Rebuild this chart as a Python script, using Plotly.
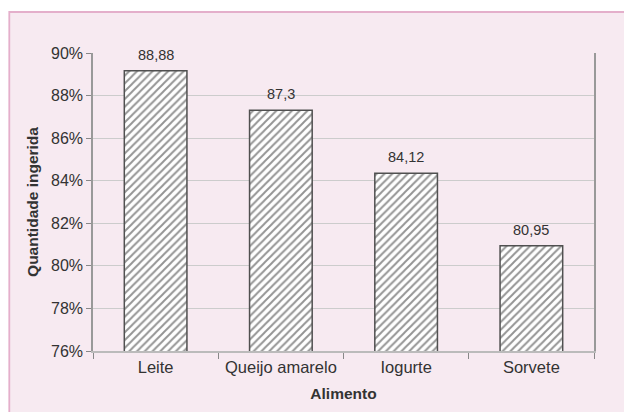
import plotly.graph_objects as go

categories = ["Leite", "Queijo amarelo", "Iogurte", "Sorvete"]
bar_values = [89.17, 87.31, 84.35, 80.95]
label_texts = ["88,88", "87,3", "84,12", "80,95"]
y_ticks = [76, 78, 80, 82, 84, 86, 88, 90]
y_tick_text = [f"{v}%" for v in y_ticks]

W, H = 624, 412
L, R, T, B = 93, 30, 53, 61
pw, ph = W - L - R, H - T - B

def px_x(px):
    return (px - L) / pw

def px_y(py):
    return (H - B - py) / ph

PINK = "#F7EAF1"
TEXT = "#333333"
FONT = "Liberation Sans, Arial, sans-serif"

fig = go.Figure()
fig.add_trace(go.Bar(
    x=categories,
    y=bar_values,
    base=0,
    width=0.5,
    marker=dict(
        color="white",
        line=dict(color="#505050", width=1.5),
        pattern=dict(shape="/", fgcolor="#2a2a2a", bgcolor="white", size=5.5, solidity=0.35),
    ),
    hoverinfo="skip",
))

for c, v, t in zip(categories, bar_values, label_texts):
    fig.add_annotation(x=c, y=v, text=t, showarrow=False, yanchor="bottom", yshift=6,
                       font=dict(family=FONT, size=14.5, color=TEXT))

fig.add_shape(type="rect", xref="paper", yref="paper",
              x0=px_x(9.3), x1=px_x(W + 20), y0=px_y(H + 20), y1=px_y(12),
              fillcolor=PINK, line=dict(color="#E4AFCB", width=1.8), layer="below")

fig.update_layout(
    width=W, height=H,
    margin=dict(l=L, r=R, t=T, b=B),
    paper_bgcolor="white",
    plot_bgcolor="rgba(0,0,0,0)",
    showlegend=False,
    bargap=0.5,
    font=dict(family=FONT, color=TEXT),
    xaxis=dict(
        title=dict(text="<b>Alimento</b>", font=dict(size=15.5, color=TEXT), standoff=14),
        tickfont=dict(size=16.5, color=TEXT),
        showline=True, linecolor="#BBBBBB", linewidth=1.5,
        ticks="outside", tickson="boundaries", ticklen=6, tickcolor="#888888", tickwidth=1,
        showgrid=False,
    ),
    yaxis=dict(
        title=dict(text="<b>Quantidade ingerida</b>", font=dict(size=15.5, color=TEXT), standoff=9),
        range=[76, 90],
        tickmode="array",
        tickvals=y_ticks,
        ticktext=y_tick_text,
        tickfont=dict(size=16, color=TEXT),
        showline=True, mirror=True, linecolor="#999999", linewidth=1.5,
        ticks="outside", ticklen=5, tickcolor="#888888", tickwidth=1,
        showgrid=True, gridcolor="#CCCCCC", gridwidth=1,
        zeroline=False,
    ),
)

fig.write_html("out.html")
